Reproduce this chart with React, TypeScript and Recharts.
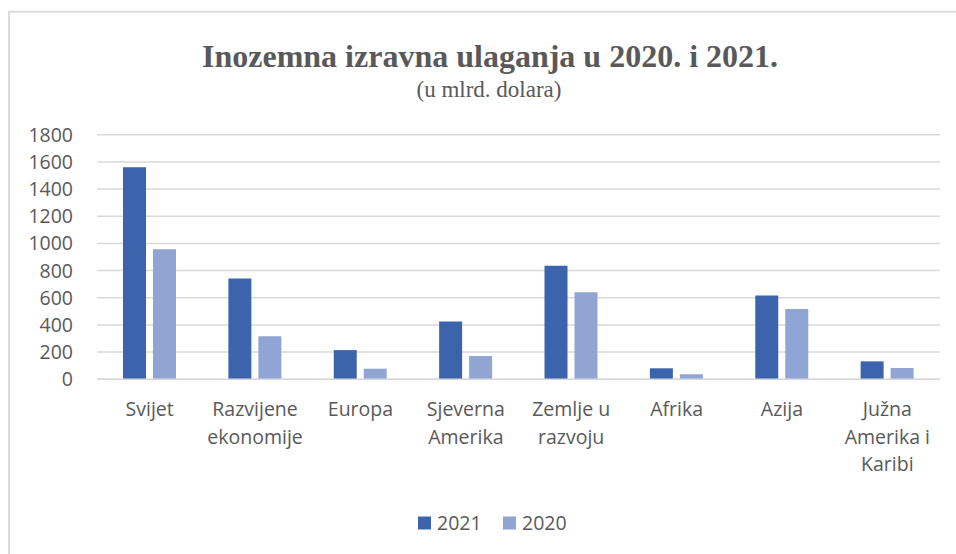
import React from "react";
import { BarChart, Bar, XAxis, YAxis, CartesianGrid } from "recharts";

const categories = [
  "Svijet",
  "Razvijene\nekonomije",
  "Europa",
  "Sjeverna\nAmerika",
  "Zemlje u\nrazvoju",
  "Afrika",
  "Azija",
  "Južna\nAmerika i\nKaribi",
];
const values2021 = [1561, 742, 215, 426, 835, 81, 617, 132];
const values2020 = [957, 316, 78, 171, 641, 37, 517, 83];
const seriesNames = ["2021", "2020"];
const yTicks = [0, 200, 400, 600, 800, 1000, 1200, 1400, 1600, 1800];
const titleText = "Inozemna izravna ulaganja u 2020. i 2021.";
const subtitleText = "(u mlrd. dolara)";

const COLORS = ["#3C64AD", "#91A5D5"];
const TEXT = "#595959";
const GRID = "#D9D9D9";
const SANS = "'Open Sans', Lato, sans-serif";
const SERIF = "'Liberation Serif', 'Times New Roman', serif";
const FS = 19.5;

const data = categories.map((c, i) => ({
  name: c,
  v2021: values2021[i],
  v2020: values2020[i],
}));

const XTick = (props: any) => {
  const { x, y, payload } = props;
  const lines = String(payload.value).split("\n");
  return (
    <g transform={`translate(${x},${y})`}>
      {lines.map((l, i) => (
        <text
          key={i}
          x={0}
          y={7 + i * 27.5}
          textAnchor="middle"
          fill={TEXT}
          fontSize={FS}
          fontFamily={SANS}
        >
          {l}
        </text>
      ))}
    </g>
  );
};

export default function App() {
  return (
    <div
      style={{
        position: "absolute",
        left: 0,
        top: 0,
        width: 956,
        height: 554,
        background: "#fff",
        overflow: "hidden",
      }}
    >
      <svg
        width={956}
        height={554}
        style={{ position: "absolute", left: 0, top: 0 }}
      >
        <rect
          x={9}
          y={11.7}
          width={1000}
          height={600}
          fill="none"
          stroke={GRID}
          strokeWidth={1.8}
        />
        <text
          x={490}
          y={67}
          textAnchor="middle"
          fill={TEXT}
          fontSize={32}
          fontWeight="bold"
          fontFamily={SERIF}
        >
          {titleText}
        </text>
        <text
          x={489}
          y={97}
          textAnchor="middle"
          fill={TEXT}
          fontSize={23}
          fontFamily={SERIF}
        >
          {subtitleText}
        </text>
        {seriesNames.map((s, i) => {
          const x0 = 418 + i * 85;
          return (
            <g key={s}>
              <rect x={x0} y={516.5} width={13} height={13} fill={COLORS[i]} />
              <text
                x={x0 + 19}
                y={529.5}
                fill={TEXT}
                fontSize={FS}
                fontFamily={SANS}
              >
                {s}
              </text>
            </g>
          );
        })}
      </svg>
      <div style={{ position: "absolute", left: 0, top: 0 }}>
        <BarChart
          width={956}
          height={554}
          data={data}
          margin={{ top: 134.7, right: 16, left: 0, bottom: 114.7 }}
          barGap={7}
          barSize={23}
        >
          <CartesianGrid
            vertical={false}
            stroke={GRID}
            strokeWidth={1.5}
          />
          <XAxis
            dataKey="name"
            height={60}
            axisLine={{ stroke: GRID, strokeWidth: 1.5 }}
            tickLine={false}
            interval={0}
            tick={<XTick />}
            tickMargin={0}
            tickSize={30}
          />
          <YAxis
            width={97}
            domain={[0, 1800]}
            ticks={yTicks}
            axisLine={false}
            tickLine={false}
            tickSize={0}
            tickMargin={24}
            tick={{ fill: TEXT, fontSize: FS, fontFamily: SANS }}
          />
          <Bar
            dataKey="v2021"
            name={seriesNames[0]}
            fill={COLORS[0]}
            isAnimationActive={false}
          />
          <Bar
            dataKey="v2020"
            name={seriesNames[1]}
            fill={COLORS[1]}
            isAnimationActive={false}
          />
        </BarChart>
      </div>
    </div>
  );
}
